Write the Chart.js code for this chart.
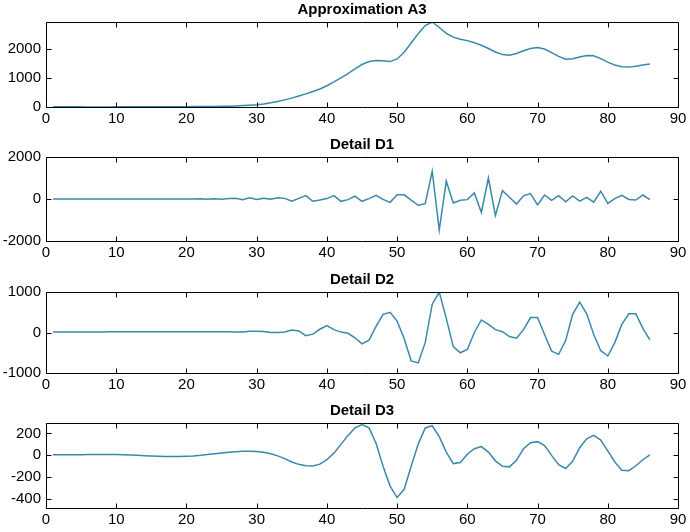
<!DOCTYPE html>
<html>
<head>
<meta charset="utf-8">
<script src="https://cdn.jsdelivr.net/npm/chart.js@4/dist/chart.umd.min.js"></script>
<style>
    body { margin: 0; background: #fff; }
    .panel { position: absolute; left: 0; width: 690px; }
</style>
</head>
<body>
<div class="panel" style="top:0px;height:129px"><canvas id="chartA3"></canvas></div>
<div class="panel" style="top:135px;height:128px"><canvas id="chartD1"></canvas></div>
<div class="panel" style="top:270px;height:125px"><canvas id="chartD2"></canvas></div>
<div class="panel" style="top:401px;height:129px"><canvas id="chartD3"></canvas></div>
<script>
// sample index 1..86
const samples = Array.from({ length: 86 }, (_, i) => i + 1);
const xTicks = [0, 10, 20, 30, 40, 50, 60, 70, 80, 90];

const approxA3 = [10, 8, 6, 5, 5, 4, 4, 4, 4, 5, 5, 5, 6, 6, 7, 8, 9, 10, 11, 12,
    14, 16, 18, 21, 25, 30, 38, 48, 60, 75,
    105, 145, 190, 245, 305, 375, 450, 530, 620, 730,
    860, 1000, 1150, 1310, 1460, 1560, 1600, 1590, 1560, 1650,
    1880, 2200, 2520, 2800, 2920, 2730, 2530, 2400, 2330, 2280,
    2210, 2120, 2010, 1890, 1800, 1780, 1840, 1930, 2010, 2040,
    1990, 1870, 1740, 1640, 1660, 1720, 1770, 1760, 1660, 1540,
    1440, 1380, 1370, 1400, 1440, 1480];

const detailD1 = [0, 5, -5, 5, -5, 5, -5, 5, -5, 5, -5, 5, -5, 5, -5, 5, -5, 5, -5, 5,
    -5, 10, -10, 10, -10, 20, 40, -30, 60, -20,
    40, -10, 60, 30, -110, 30, 160, -110, -50, 20,
    160, -110, -30, 140, -110, 20, 170, -20, -160, 200,
    200, -50, -300, -220, 1320, -1480, 850, -190, -60, -30,
    290, -640, 1000, -780, 400, 80, -240, 150, 260, -280,
    190, -60, 160, -130, 150, -100, 80, -150, 370, -210,
    20, 170, -20, -50, 190, -30];

const detailD2 = [10, 10, 12, 12, 14, 14, 15, 15, 16, 16, 16, 16, 17, 17, 18, 18, 18, 18, 18, 18,
    18, 18, 20, 20, 20, 20, 10, 10, 30, 30,
    25, 0, 0, 10, 60, 40, -80, -40, 80, 170,
    70, 10, -20, -130, -280, -190, 150, 450, 500, 280,
    -150, -700, -750, -250, 700, 1000, 350, -350, -500, -420,
    0, 310, 200, 70, 20, -100, -140, 70, 370, 370,
    -50, -460, -540, -200, 450, 750, 460, -50, -450, -580,
    -250, 200, 460, 460, 100, -180];

const detailD3 = [5, 5, 5, 6, 6, 7, 7, 8, 8, 8, 5, 3, 0, -3, -5, -8, -10, -10, -10, -8,
    -5, 0, 8, 15, 22, 28, 33, 37, 38, 36,
    28, 15, -5, -30, -60, -82, -95, -97, -80, -40,
    20, 100, 180, 250, 280, 250, 110, -100, -280, -385,
    -310, -100, 100, 250, 270, 170, 30, -75, -65, 10,
    60, 80, 30, -50, -100, -105, -45, 60, 115, 125,
    90, 0, -85, -120, -55, 70, 150, 182, 140, 40,
    -60, -135, -140, -95, -40, 5];

const yTicksA3 = [0, 1000, 2000];
const yTicksD1 = [-2000, 0, 2000];
const yTicksD2 = [-1000, 0, 1000];
const yTicksD3 = [-400, -200, 0, 200];

// matlab style frame with inward ticks
const boxPlugin = {
    id: 'box',
    afterDraw(chart) {
        const ctx = chart.ctx;
        const a = chart.chartArea;
        const xs = chart.scales.x;
        const ys = chart.scales.y;
        const l = Math.round(a.left) + 0.5, r = Math.round(a.right) + 0.5;
        const t = Math.round(a.top) + 0.5, b = Math.round(a.bottom) + 0.5;
        ctx.save();
        ctx.strokeStyle = '#000';
        ctx.lineWidth = 1;
        ctx.beginPath();
        xs.ticks.forEach(tk => {
            const px = Math.round(xs.getPixelForValue(tk.value)) + 0.5;
            ctx.moveTo(px, b); ctx.lineTo(px, b - 5);
            ctx.moveTo(px, t); ctx.lineTo(px, t + 5);
        });
        ys.ticks.forEach(tk => {
            const py = Math.round(ys.getPixelForValue(tk.value)) + 0.5;
            ctx.moveTo(l, py); ctx.lineTo(l + 5, py);
            ctx.moveTo(r, py); ctx.lineTo(r - 5, py);
        });
        ctx.moveTo(l, t); ctx.lineTo(r, t); ctx.lineTo(r, b); ctx.lineTo(l, b); ctx.closePath();
        ctx.stroke();
        ctx.restore();
    }
};

function makePanel(id, title, values, yMin, yMax, yTicks) {
    const ctx = document.getElementById(id).getContext('2d');
    return new Chart(ctx, {
        type: 'line',
        data: {
            datasets: [{
                data: samples.map((s, i) => ({ x: s, y: values[i] })),
                borderColor: '#3a88ab',
                borderWidth: 1.5,
                pointRadius: 0,
                tension: 0
            }]
        },
        options: {
            responsive: true,
            maintainAspectRatio: false,
            animation: false,
            layout: { padding: { left: 0, right: 12, top: 0, bottom: 0 } },
            plugins: {
                legend: { display: false },
                tooltip: { enabled: false },
                title: {
                    display: true,
                    text: title,
                    fullSize: false,
                    color: '#000',
                    font: { family: 'Liberation Sans', size: 15, weight: 'bold', lineHeight: 1.2 },
                    padding: { top: 1, bottom: 3 }
                }
            },
            scales: {
                x: {
                    type: 'linear',
                    min: 0,
                    max: 90,
                    grid: { display: false, drawTicks: false },
                    border: { display: false },
                    afterBuildTicks: s => { s.ticks = xTicks.map(v => ({ value: v })); },
                    afterFit: s => { s.height = 22; },
                    ticks: {
                        color: '#000',
                        padding: 3,
                        maxRotation: 0,
                        callback: v => String(v),
                        font: { family: 'Liberation Sans', size: 15 }
                    }
                },
                y: {
                    min: yMin,
                    max: yMax,
                    grid: { display: false, drawTicks: false },
                    border: { display: false },
                    afterBuildTicks: s => { s.ticks = yTicks.map(v => ({ value: v })); },
                    afterFit: s => { s.width = 46; },
                    ticks: {
                        color: '#000',
                        padding: 5,
                        callback: v => String(v),
                        font: { family: 'Liberation Sans', size: 15 }
                    }
                }
            }
        },
        plugins: [boxPlugin]
    });
}

makePanel('chartA3', 'Approximation A3', approxA3, 0, 2920, yTicksA3);
makePanel('chartD1', 'Detail D1', detailD1, -2000, 2000, yTicksD1);
makePanel('chartD2', 'Detail D2', detailD2, -1000, 1000, yTicksD2);
makePanel('chartD3', 'Detail D3', detailD3, -480, 295, yTicksD3);
</script>
</body>
</html>
